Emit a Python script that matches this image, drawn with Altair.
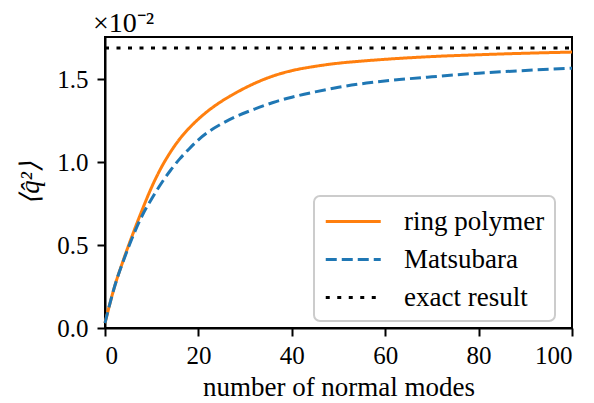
import altair as alt
import pandas as pd

# ---- data ----
x_vals = [0, 2, 4, 6, 8, 10, 12, 14, 16, 18, 20, 22, 25, 28, 32, 36, 40,
          45, 50, 56, 63, 70, 80, 90, 100]
ring_polymer = [0.03, 0.245, 0.415, 0.57, 0.715, 0.85, 0.965, 1.06, 1.14,
                1.205, 1.26, 1.308, 1.368, 1.418, 1.475, 1.52, 1.552, 1.578,
                1.597, 1.612, 1.626, 1.637, 1.648, 1.657, 1.664]
matsubara = [0.03, 0.245, 0.41, 0.555, 0.68, 0.78, 0.87, 0.95, 1.02, 1.08,
             1.135, 1.18, 1.232, 1.275, 1.32, 1.36, 1.392, 1.424, 1.452,
             1.477, 1.498, 1.515, 1.537, 1.553, 1.567]
exact_x = [0, 100]
exact_val = [1.688, 1.688]

series_names = ["ring polymer", "Matsubara", "exact result"]
series_colors = ["#ff7f0e", "#1f77b4", "#000000"]
series_dashes = [[1, 0], [11, 5], [4, 7.5]]
series_widths = [3, 3, 4]

x_ticks = [0, 20, 40, 60, 80, 100]
y_ticks = [0.0, 0.5, 1.0, 1.5]

rows = []
for x, v in zip(x_vals, ring_polymer):
    rows.append({"x": x, "y": v, "series": "ring polymer", "order": 0})
for x, v in zip(x_vals, matsubara):
    rows.append({"x": x, "y": v, "series": "Matsubara", "order": 1})
for x, v in zip(exact_x, exact_val):
    rows.append({"x": x, "y": v, "series": "exact result", "order": 2})
df = pd.DataFrame(rows)

FONT = "Liberation Serif"
FS = 25

chart = (
    alt.Chart(df)
    .mark_line(interpolate="monotone", strokeCap="butt")
    .encode(
        x=alt.X("x:Q", scale=alt.Scale(domain=[0, 100], nice=False),
                axis=alt.Axis(values=x_ticks, title="number of normal modes", format="d")),
        y=alt.Y("y:Q", scale=alt.Scale(domain=[0, 1.755], nice=False, zero=False),
                axis=alt.Axis(values=y_ticks, format=".1f", title="⟨q̂²⟩")),
        color=alt.Color("series:N", title=None,
                        scale=alt.Scale(domain=series_names, range=series_colors)),
        strokeDash=alt.StrokeDash("series:N", title=None,
                                  scale=alt.Scale(domain=series_names, range=series_dashes)),
        strokeWidth=alt.StrokeWidth("series:N", title=None,
                                    scale=alt.Scale(domain=series_names, range=series_widths)),
        detail="order:Q",
    )
    .properties(
        width=467, height=291,
        autosize=alt.AutoSizeParams(type="none"),
        padding={"left": 97, "top": 29, "right": 14, "bottom": 75},
        title=alt.TitleParams("×10⁻²", anchor="start", frame="group", font=FONT,
                              fontSize=28, fontWeight="normal", dx=-12, offset=-1,
                              color="black"),
    )
    .configure_view(stroke="black", strokeWidth=2)
    .configure_axis(
        grid=False, domainColor="black", domainWidth=2, tickColor="black",
        tickWidth=2, tickSize=8, labelFont=FONT, labelFontSize=FS,
        labelColor="black", titleFont=FONT, titleFontSize=27,
        titleFontWeight="normal", titleColor="black", labelPadding=7,
    )
    .configure_axisY(titlePadding=12, titleFontStyle="italic", labelPadding=9)
    .configure_axisX(titlePadding=6)
    .configure_legend(
        orient="none", legendX=209, legendY=159, fillColor="white",
        strokeColor="#cccccc", strokeWidth=2, cornerRadius=6, padding=10,
        labelFont=FONT, labelFontSize=27, labelColor="black",
        symbolType="M-1,0H3", symbolSize=756, labelOffset=49,
        rowPadding=9,
    )
)

chart.save("out.html", embed_options={"renderer": "svg", "actions": False})
